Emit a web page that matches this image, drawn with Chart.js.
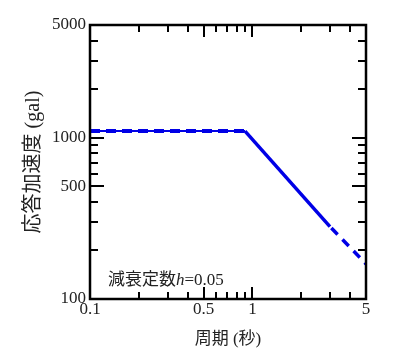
<!DOCTYPE html>
<html><head><meta charset="utf-8">
<script src="https://cdn.jsdelivr.net/npm/chart.js@4"></script>
<style>html,body{margin:0;padding:0;background:#fff}#wrap{width:400px;height:364px}</style>
</head><body><div id="wrap"><canvas id="c" width="400" height="364"></canvas></div>
<script>
// ---- data ----
const periodFlat = [0.1, 0.9];
const accelFlat = [1100, 1100];
const periodSlope = [0.9, 3.0];
const accelSlope = [1100, 281];
const periodTail = [3.0, 5];
const accelTail = [281, 165];
const xTickValues = [0.1, 0.2, 0.3, 0.4, 0.5, 0.6, 0.7, 0.8, 0.9, 1, 2, 3, 4, 5];
const xLongTicks = [0.5, 1];
const xTickLabels = {0.1: '0.1', 0.5: '0.5', 1: '1', 5: '5'};
const yTickValues = [100, 200, 300, 400, 500, 600, 700, 800, 900, 1000, 2000, 3000, 4000, 5000];
const yLongTicks = [500, 1000];
const yTickLabels = {100: '100', 500: '500', 1000: '1000', 5000: '5000'};
const xTitle = '周期 (秒)';
const yTitle = '応答加速度 (gal)';
const noteCJK = '減衰定数';
const noteVar = 'h';
const noteVal = '=0.05';
const noteAt = [0.129, 122];

const SERIF = "'Liberation Serif', 'Noto Sans CJK JP', serif";
const BLUE = '#0000e6';
const TXT = '#222';

const pts = (xs, ys) => xs.map((v, i) => ({x: v, y: ys[i]}));

const framePlugin = {
  id: 'frame',
  afterDatasetsDraw(chart) {
    const {ctx, chartArea: a, scales: {x, y}} = chart;
    ctx.save();
    ctx.strokeStyle = '#000';
    ctx.lineWidth = 2;
    ctx.beginPath();
    xTickValues.forEach(v => {
      const px = Math.round(x.getPixelForValue(v));
      const L = xLongTicks.includes(v) ? 12 : 7;
      ctx.moveTo(px, a.bottom); ctx.lineTo(px, a.bottom - L);
      ctx.moveTo(px, a.top); ctx.lineTo(px, a.top + L);
    });
    yTickValues.forEach(v => {
      const py = Math.round(y.getPixelForValue(v));
      const L = yLongTicks.includes(v) ? 14 : 8;
      ctx.moveTo(a.left, py); ctx.lineTo(a.left + L, py);
      ctx.moveTo(a.right, py); ctx.lineTo(a.right - L, py);
    });
    ctx.stroke();
    ctx.lineWidth = 2.5;
    ctx.strokeRect(a.left, a.top, a.right - a.left, a.bottom - a.top);
    // annotation
    let nx = x.getPixelForValue(noteAt[0]);
    const ny = y.getPixelForValue(noteAt[1]);
    ctx.fillStyle = TXT;
    ctx.textBaseline = 'alphabetic';
    ctx.font = "17px 'Noto Sans CJK JP'";
    ctx.fillText(noteCJK, nx, ny);
    nx += ctx.measureText(noteCJK).width;
    ctx.font = "italic 17px 'Liberation Serif'";
    ctx.fillText(noteVar, nx, ny);
    nx += ctx.measureText(noteVar).width;
    ctx.font = "17px 'Liberation Serif'";
    ctx.fillText(noteVal, nx, ny);
    ctx.restore();
  }
};

new Chart(document.getElementById('c'), {
  type: 'line',
  data: {
    datasets: [
      {data: pts(periodFlat, accelFlat), borderColor: BLUE, borderWidth: 2, pointRadius: 0},
      {data: pts(periodFlat, accelFlat), borderColor: BLUE, borderWidth: 4, borderDash: [10, 6], pointRadius: 0},
      {data: pts(periodSlope, accelSlope), borderColor: BLUE, borderWidth: 3.5, pointRadius: 0},
      {data: pts(periodTail, accelTail), borderColor: BLUE, borderWidth: 3.5, borderDash: [9, 7], borderDashOffset: -2, pointRadius: 0}
    ]
  },
  options: {
    responsive: false,
    animation: false,
    events: [],
    layout: {padding: {top: 25, right: 34, left: 0, bottom: 0}},
    plugins: {legend: {display: false}, tooltip: {enabled: false}},
    scales: {
      x: {
        type: 'logarithmic', min: 0.1, max: 5,
        afterBuildTicks: s => { s.ticks = xTickValues.map(v => ({value: v})); },
        afterFit: s => { s.height = 65; },
        grid: {display: false, drawTicks: false},
        border: {display: false},
        ticks: {
          autoSkip: false, maxRotation: 0, padding: 0, color: TXT,
          font: {family: SERIF, size: 17},
          callback: v => xTickLabels[v] || ''
        },
        title: {display: true, text: xTitle, color: TXT, font: {family: SERIF, size: 17}, padding: {top: 0, bottom: 14}}
      },
      y: {
        type: 'logarithmic', min: 100, max: 5000,
        afterBuildTicks: s => { s.ticks = yTickValues.map(v => ({value: v})); },
        afterFit: s => { s.width = 90; },
        grid: {display: false, drawTicks: false},
        border: {display: false},
        ticks: {
          autoSkip: false, padding: 4, color: TXT,
          font: {family: SERIF, size: 17},
          callback: v => yTickLabels[v] || ''
        },
        title: {display: true, text: yTitle, color: TXT, font: {family: SERIF, size: 20}, padding: {top: 22, bottom: 0}}
      }
    }
  },
  plugins: [framePlugin]
});
</script>
</body></html>
